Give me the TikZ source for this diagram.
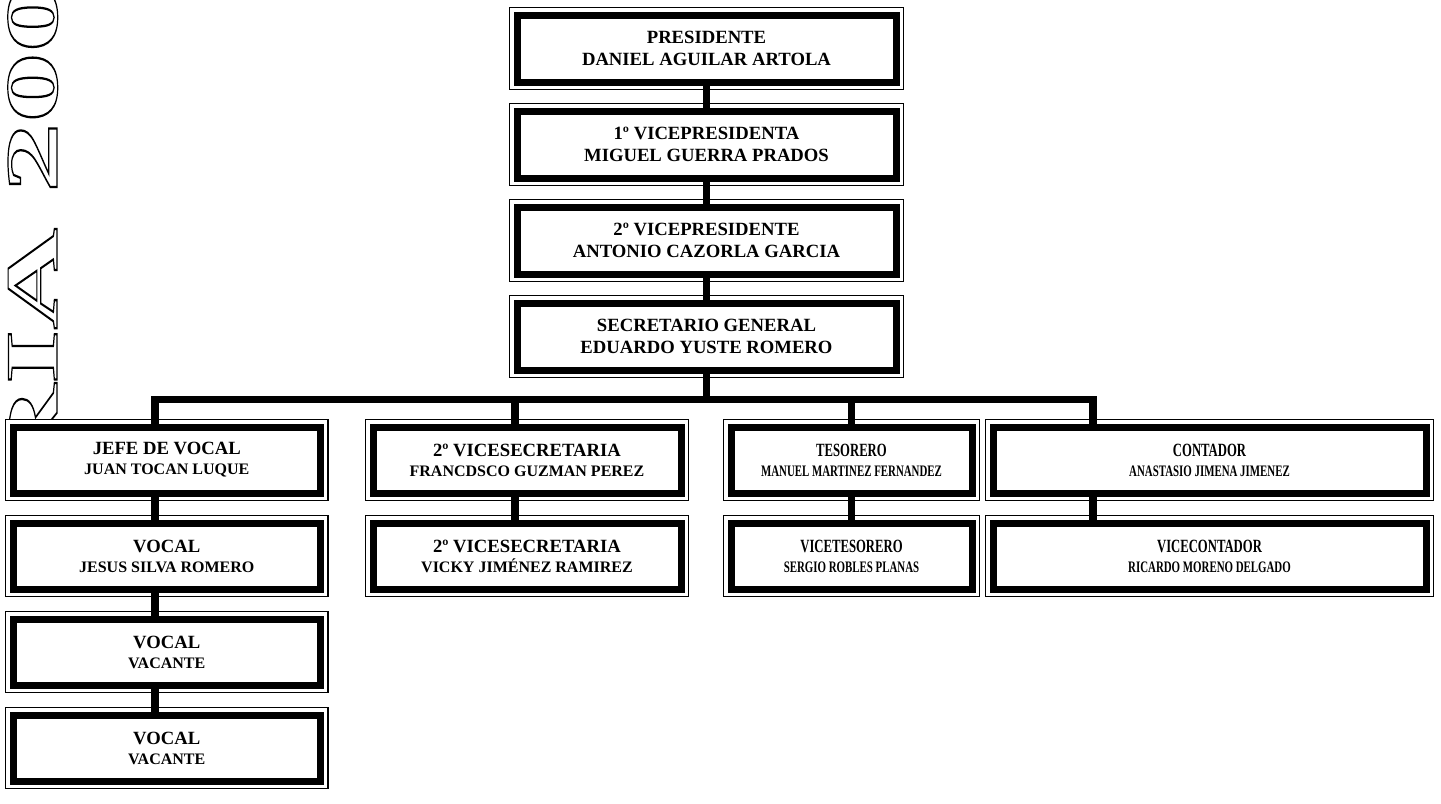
\documentclass[tikz,border=0pt]{standalone}
\usepackage{fontspec}
\setmainfont{Liberation Serif}
\usepackage{graphicx}
\pgfdeclarelayer{bg}
\pgfdeclarelayer{frames}
\pgfsetlayers{bg,frames,main}
\newcommand\outlinetext[1]{\special{pdf:literal direct 1 Tr 0.9 w}#1\special{pdf:literal direct 0 Tr}}
\newcommand\cond[1]{\scalebox{0.68}[1]{#1}}
\tikzset{
  orgbox/.style={draw=black, line width=5.25pt, fill=white, inner sep=0pt, outer sep=0pt,
    align=center, font=\bfseries\fontsize{14pt}{15pt}\selectfont,
    execute at begin node={\rule{0pt}{13.5pt}}},
  topbox/.style={orgbox, minimum width=284.25pt, minimum height=50.25pt,
    font=\bfseries\fontsize{14pt}{16pt}\selectfont},
  rowbox/.style={orgbox, minimum height=49.5pt},
  colA/.style={rowbox, minimum width=230.6pt},
  colB/.style={rowbox, minimum width=231pt},
  colC/.style={rowbox, minimum width=180.75pt},
  colD/.style={rowbox, minimum width=324.75pt},
  thinframe/.style={draw=black, line width=0.8pt, fill=white},
  conn/.style={draw=black, line width=5.4pt, line join=miter},
  titletext/.style={rotate=90, anchor=base west, inner sep=0pt,
    font=\bfseries\fontsize{55.5pt}{60pt}\selectfont}
}
\newcommand\nm[1]{{\fontsize{12pt}{15pt}\selectfont #1}}
\begin{document}
\begin{tikzpicture}[x=0.75pt,y=-0.75pt]
\useasboundingbox (0,0) rectangle (1441,803);
\begin{pgfonlayer}{bg}
  \fill[white] (0,0) rectangle (1441,803);
  \node[titletext] (title) at (57,486) {\scalebox{1.9}[1]{\outlinetext{RIA 200}}};
\end{pgfonlayer}

% central column
\node[topbox] (pres) at (706.5,48.5) {PRESIDENTE\\DANIEL AGUILAR ARTOLA};
\node[topbox] (vp1) at (706.5,144.5) {1º VICEPRESIDENTA\\MIGUEL GUERRA PRADOS};
\node[topbox] (vp2) at (706.5,240.5) {2º VICEPRESIDENTE\\ANTONIO CAZORLA GARCIA};
\node[topbox] (sec) at (706.5,336.5) {SECRETARIO GENERAL\\EDUARDO YUSTE ROMERO};

% column 1
\node[colA] (jefe) at (166.75,460) {JEFE DE VOCAL\\\nm{JUAN TOCAN LUQUE}};
\node[colA] (voc1) at (166.75,556) {VOCAL\\\nm{JESUS SILVA ROMERO}};
\node[colA] (voc2) at (166.75,652) {VOCAL\\\nm{VACANTE}};
\node[colA] (voc3) at (166.75,748) {VOCAL\\\nm{VACANTE}};

% column 2
\node[colB] (vs1) at (527,460) {2º VICESECRETARIA\\\nm{FRANCDSCO GUZMAN PEREZ}};
\node[colB] (vs2) at (527,556) {2º VICESECRETARIA\\\nm{VICKY JIMÉNEZ RAMIREZ}};

% column 3
\node[colC] (tes) at (851.5,460) {\cond{TESORERO}\\\cond{\nm{MANUEL MARTINEZ FERNANDEZ}}};
\node[colC] (vtes) at (851.5,556) {\cond{VICETESORERO}\\\cond{\nm{SERGIO ROBLES PLANAS}}};

% column 4
\node[colD] (cont) at (1209.5,460) {\cond{CONTADOR}\\\cond{\nm{ANASTASIO JIMENA JIMENEZ}}};
\node[colD] (vcont) at (1209.5,556) {\cond{VICECONTADOR}\\\cond{\nm{RICARDO MORENO DELGADO}}};

\begin{pgfonlayer}{frames}
  \foreach \n in {pres,vp1,vp2,sec,jefe,voc1,voc2,voc3,vs1,vs2,tes,vtes,cont,vcont}
    \draw[thinframe] ([shift={(-7.5,-7.5)}]\n.north west) rectangle ([shift={(7.5,7.5)}]\n.south east);
\end{pgfonlayer}

% bus coordinates
\coordinate (busL) at (155,399.5);
\coordinate (busR) at (1093,399.5);
\coordinate (b2) at (515,399.5);

% connectors
\draw[conn] (pres.south) -- (vp1.north);
\draw[conn] (vp1.south) -- (vp2.north);
\draw[conn] (vp2.south) -- (sec.north);
\draw[conn] (sec.south) -- (sec.south |- busL);
\draw[conn] (jefe.north -| busL) -- (busL) -- (busR) -- (cont.north -| busR);
\draw[conn] (b2) -- (vs1.north -| b2);
\draw[conn] (tes.north |- busL) -- (tes.north);

\draw[conn] (jefe.south -| busL) -- (voc1.north -| busL);
\draw[conn] (voc1.south -| busL) -- (voc2.north -| busL);
\draw[conn] (voc2.south -| busL) -- (voc3.north -| busL);
\draw[conn] (vs1.south -| b2) -- (vs2.north -| b2);
\draw[conn] (tes.south) -- (vtes.north);
\draw[conn] (cont.south -| busR) -- (vcont.north -| busR);
\end{tikzpicture}
\end{document}
